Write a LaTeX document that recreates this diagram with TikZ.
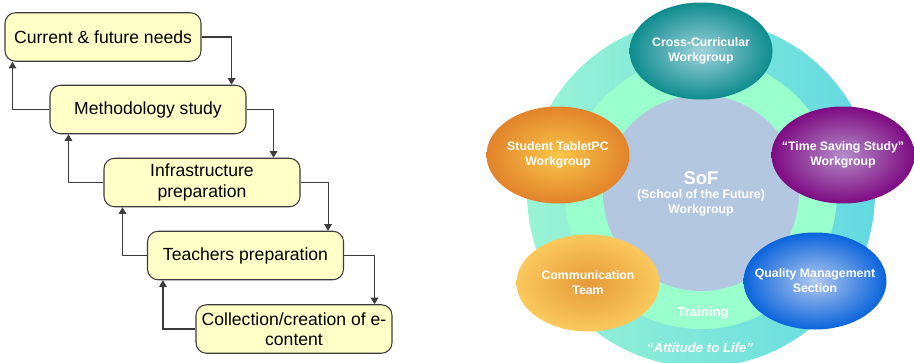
\documentclass[tikz,border=0pt]{standalone}
\usepackage{fontspec}
\setmainfont{Liberation Sans}
\usepackage{tikz}
\usetikzlibrary{arrows.meta, shapes.geometric, calc}
\definecolor{StageYellow}{HTML}{FFFFC8}
\definecolor{StageEdge}{HTML}{3C3C3C}
\definecolor{RingMint}{HTML}{9AF4D4}
\definecolor{RingCyan}{HTML}{62D9E2}
\definecolor{RingBlue}{HTML}{52C6EE}
\definecolor{TrainGreen}{HTML}{99FFCC}
\definecolor{SofBlue}{HTML}{B4C7E1}
\definecolor{TealIn}{HTML}{9FD2DC}
\definecolor{TealOut}{HTML}{0E8C8E}
\definecolor{OrangeIn}{HTML}{F9C54A}
\definecolor{OrangeOut}{HTML}{E2832A}
\definecolor{PurpleIn}{HTML}{B48CC8}
\definecolor{PurpleOut}{HTML}{7E0A82}
\definecolor{AmberIn}{HTML}{E69A3A}
\definecolor{AmberOut}{HTML}{FAC95C}
\definecolor{BlueIn}{HTML}{B2C8EE}
\definecolor{BlueOut}{HTML}{0A64DC}
\tikzset{
    stagebox/.style={draw=StageEdge, line width=0.6pt, rounded corners=6pt, fill=StageYellow, minimum width=3.92cm, minimum height=0.97cm, align=center, font=\fontsize{10}{11.5}\selectfont, inner sep=2pt},
    stagearrow/.style={-{Triangle[length=1.3mm, width=1.5mm]}, line width=0.6pt, StageEdge},
    wgroup/.style={ellipse, minimum width=2.86cm, minimum height=1.94cm, inner xsep=-0.45cm, inner ysep=0pt, align=center, text=white, font=\bfseries\fontsize{7}{8.6}\selectfont},
    ringlbl/.style={text=white, font=\bfseries\fontsize{7.5}{9}\selectfont},
}

\begin{document}
\begin{tikzpicture}
        \useasboundingbox (0,0) rectangle (18.28,7.24);
        % project stages
        \node[stagebox] (need) at (2.06,6.50) {Current \& future needs};
        \node[stagebox] (method) at (2.96,5.05) {Methodology study};
        \node[stagebox] (infra) at (4.04,3.59) {Infrastructure\\ preparation};
        \node[stagebox] (teach) at (4.91,2.13) {Teachers preparation};
        \node[stagebox] (collect) at (5.88,0.66) {Collection/creation of e-\\ content};
        \draw[stagearrow] (need.east) -| ([xshift=-0.30cm]method.north east);
        \draw[stagearrow] (method.east) -| ([xshift=-0.54cm]infra.north east);
        \draw[stagearrow] (infra.east) -| ([xshift=-0.32cm]teach.north east);
        \draw[stagearrow] (teach.east) -| ([xshift=-0.36cm]collect.north east);
        \draw[stagearrow] (method.west) -| ([xshift=0.16cm]need.south west);
        \draw[stagearrow] (infra.west) -| ([xshift=0.38cm]method.south west);
        \draw[stagearrow] (teach.west) -| ([xshift=0.38cm]infra.south west);
        \draw[stagearrow] (collect.west) -| ([xshift=0.32cm]teach.south west);
        % organisation rings
        \coordinate (ctr) at (14.02,3.38);
        \shade[left color=RingMint, middle color=RingBlue, right color=RingCyan] (ctr) circle (3.48);
        \fill[TrainGreen] (ctr) circle (2.72);
        \fill[SofBlue] (ctr) circle (1.96);
        \node[text=white, align=center, font=\bfseries\fontsize{7}{8.2}\selectfont] (sof) at (14.02,3.37) {{\fontsize{10.5}{12}\selectfont SoF}\\ (School of the Future)\\ Workgroup};
        \node[ringlbl] (train) at (14.06,0.98) {Training};
        \node[ringlbl, font=\bfseries\itshape\fontsize{7.5}{9}\selectfont] (life) at (14.00,0.28) {``Attitude to Life''};
        \node[wgroup, inner color=TealIn, outer color=TealOut] (cross) at (14.02,6.22) {Cross-Curricular\\ Workgroup};
        \node[wgroup, inner color=OrangeIn, outer color=OrangeOut] (tablet) at (11.16,4.14) {Student TabletPC\\ Workgroup};
        \node[wgroup, inner color=PurpleIn, outer color=PurpleOut] (time) at (16.86,4.14) {``Time Saving Study''\\ Workgroup};
        \node[wgroup, inner color=AmberIn, outer color=AmberOut] (comm) at (11.76,1.58) {Communication\\ Team};
        \node[wgroup, inner color=BlueIn, outer color=BlueOut] (qual) at (16.30,1.62) {Quality Management\\ Section};
    \end{tikzpicture}
\end{document}
